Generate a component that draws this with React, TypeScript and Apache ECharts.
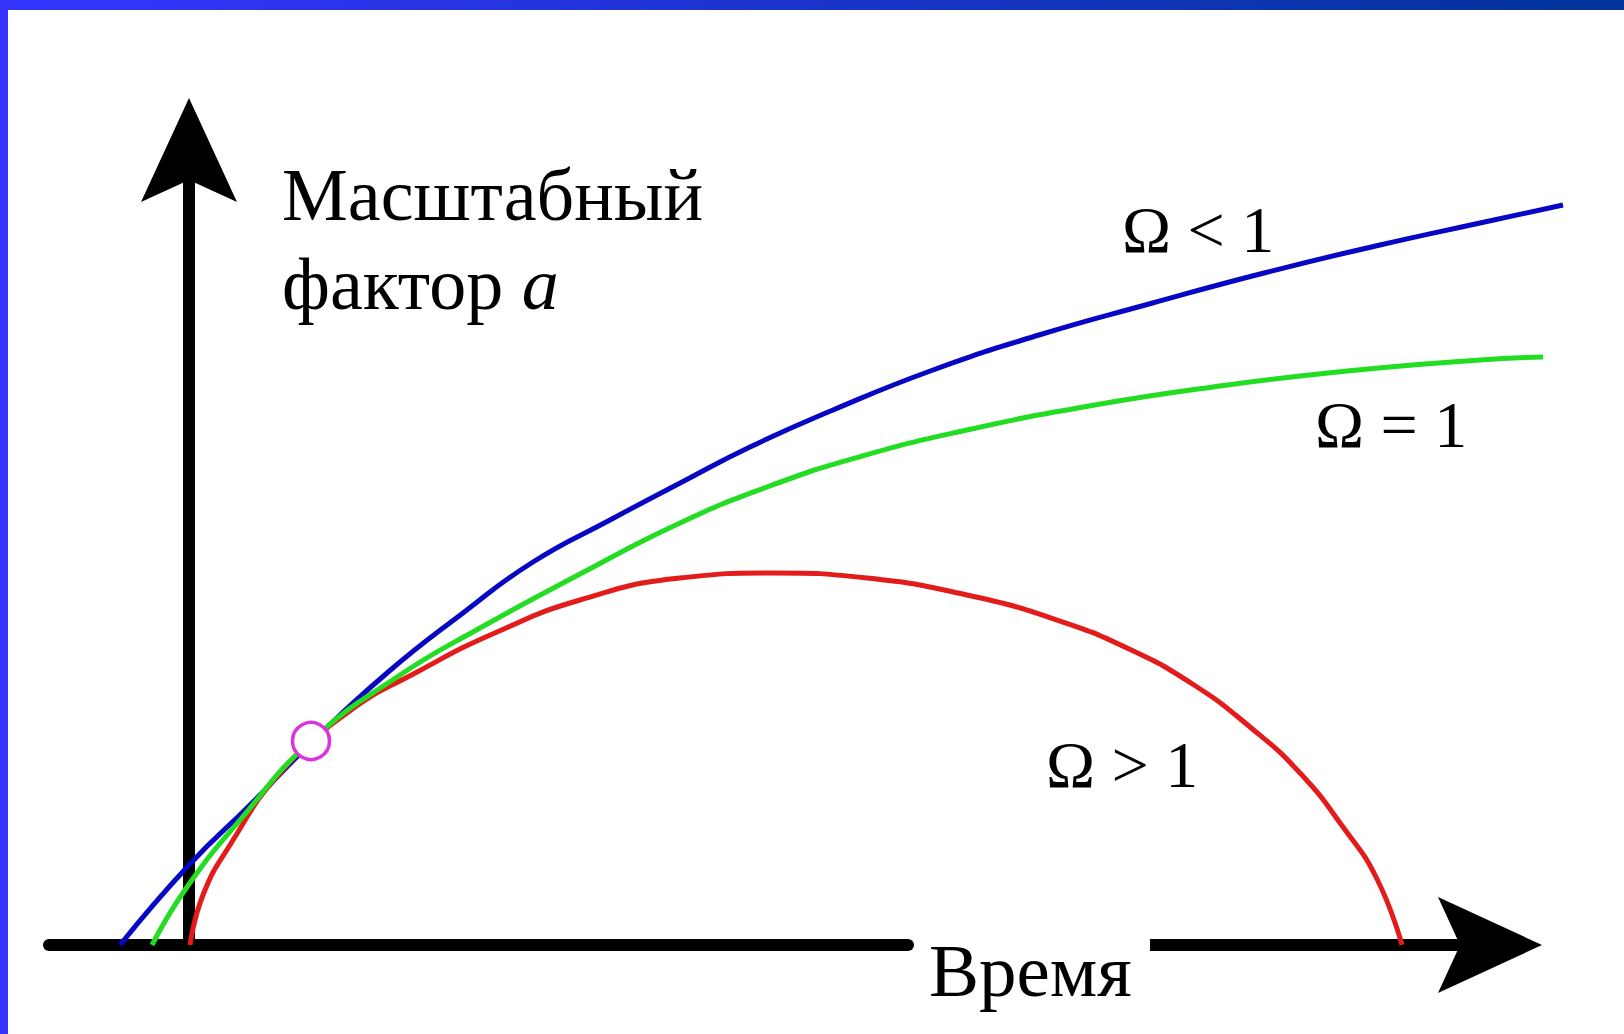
import React, { useEffect, useRef } from "react";
import * as echarts from "echarts";

// Curve values: [time, scale factor]
const openCurve: number[][] = [
  [-0.69, 0], [0, 0.8], [0.61, 1.4], [1.22, 2.02], [1.98, 2.72], [2.74, 3.32],
  [3.44, 3.83], [4.21, 4.25], [4.95, 4.64], [5.61, 4.98], [6.44, 5.35], [7.44, 5.75],
  [8.5, 6.1], [9.6, 6.41], [10.75, 6.72], [11.91, 7.0], [12.91, 7.22], [13.74, 7.4],
];
const flatCurve: number[][] = [
  [-0.37, 0], [-0.02, 0.58], [0.51, 1.25], [1.22, 2.04], [2.08, 2.68], [2.91, 3.17],
  [3.91, 3.71], [4.91, 4.22], [5.78, 4.58], [6.7, 4.88], [7.78, 5.15], [9.0, 5.39],
  [10.24, 5.58], [11.58, 5.74], [12.91, 5.85], [13.54, 5.88],
];
const closedCurve: number[][] = [
  [0.01, 0], [0.14, 0.5], [0.41, 1.0], [0.91, 1.72], [1.58, 2.32], [2.3, 2.74],
  [3.08, 3.13], [3.91, 3.45], [4.91, 3.67], [5.84, 3.72], [6.78, 3.67], [7.78, 3.5],
  [8.65, 3.26], [9.4, 2.96], [10.05, 2.6], [10.61, 2.18], [11.11, 1.72], [11.54, 1.18],
  [11.88, 0.66], [12.13, 0],
];
const todayPoint: number[][] = [[1.22, 2.04]];

const curveLabels = ["Ω < 1", "Ω = 1", "Ω > 1"];
const yAxisTitle = ["Масштабный", "фактор "];
const yAxisSymbol = "a";
const xAxisTitle = "Время";

// axis extents in data units
const X_START = -1.4;
const X_TIP = 13.53;
const Y_TIP = 8.47;
const X_BREAK = [7.19, 9.61];

const SERIF = '"Liberation Serif", "Times New Roman", serif';

export default function App() {
  const ref = useRef<HTMLDivElement>(null);
  useEffect(() => {
    const el = ref.current!;
    const chart = echarts.init(el, null, { renderer: "svg" });
    const lineSeries = (name: string, data: number[][], color: string, z: number) => ({
      name,
      type: "line",
      data,
      smooth: 0.5,
      showSymbol: false,
      symbol: "none",
      clip: false,
      z,
      lineStyle: { color, width: 5 },
    });
    chart.setOption({
      animation: false,
      backgroundColor: "#ffffff",
      grid: { left: 29, right: 35, top: 65, bottom: 89 },
      xAxis: { type: "value", min: -1.6, max: 14, show: false },
      yAxis: { type: "value", min: 0, max: 8.8, show: false },
      series: [
        lineSeries("open", openCurve, "#0606C4", 3),
        lineSeries("closed", closedCurve, "#E31B1B", 4),
        lineSeries("flat", flatCurve, "#22DD22", 5),
        {
          name: "today",
          type: "scatter",
          data: todayPoint,
          symbol: "circle",
          symbolSize: 37,
          z: 6,
          itemStyle: { color: "#ffffff", borderColor: "#DD33DD", borderWidth: 3.5, opacity: 1 },
        },
      ],
    });

    const px = (x: number, y: number) => chart.convertToPixel({ gridIndex: 0 }, [x, y]) as number[];
    const o = px(0, 0);
    const xs = px(X_START, 0);
    const xt = px(X_TIP, 0);
    const yt = px(0, Y_TIP);
    const b1 = px(X_BREAK[0], 0);
    const b2 = px(X_BREAK[1], 0);
    const AL = 104; // arrow length
    const AW = 48; // arrow half width
    const AN = 22; // notch depth
    const axisStyle = { stroke: "#000", lineWidth: 12, lineCap: "round" };

    chart.setOption({
      graphic: [
        {
          type: "rect",
          z: 10,
          shape: { x: 0, y: 0, width: 1624, height: 10 },
          style: {
            fill: new echarts.graphic.LinearGradient(0, 0, 1, 0, [
              { offset: 0, color: "#3535FF" },
              { offset: 1, color: "#003399" },
            ]),
          },
        },
        { type: "rect", z: 10, shape: { x: 0, y: 0, width: 8, height: 1034 }, style: { fill: "#3434FC" } },
        { type: "line", z: 1, shape: { x1: xs[0], y1: o[1], x2: b1[0], y2: o[1] }, style: axisStyle },
        { type: "line", z: 1, shape: { x1: b2[0], y1: o[1], x2: xt[0] - AL + AN, y2: o[1] }, style: { ...axisStyle, lineCap: "butt" } },
        { type: "line", z: 1, shape: { x1: o[0], y1: o[1], x2: o[0], y2: yt[1] + AL - AN }, style: { ...axisStyle, lineCap: "butt" } },
        {
          type: "polygon",
          z: 1,
          shape: {
            points: [
              [xt[0], o[1]],
              [xt[0] - AL, o[1] - AW],
              [xt[0] - AL + AN, o[1]],
              [xt[0] - AL, o[1] + AW],
            ],
          },
          style: { fill: "#000" },
        },
        {
          type: "polygon",
          z: 1,
          shape: {
            points: [
              [o[0], yt[1]],
              [o[0] + AW, yt[1] + AL],
              [o[0], yt[1] + AL - AN],
              [o[0] - AW, yt[1] + AL],
            ],
          },
          style: { fill: "#000" },
        },
        {
          type: "text",
          z: 8,
          x: 282,
          y: 195,
          style: { text: yAxisTitle[0], fontFamily: SERIF, fontSize: 74, fill: "#000", align: "left", verticalAlign: "middle" },
        },
        {
          type: "text",
          z: 8,
          x: 282,
          y: 284,
          style: {
            text: yAxisTitle[1] + "{i|" + yAxisSymbol + "}",
            fontFamily: SERIF,
            fontSize: 74,
            fill: "#000",
            align: "left",
            verticalAlign: "middle",
            rich: { i: { fontStyle: "italic", fontFamily: SERIF, fontSize: 74, fill: "#000" } },
          },
        },
        {
          type: "text",
          z: 8,
          x: 929,
          y: 970,
          style: { text: xAxisTitle, fontFamily: SERIF, fontSize: 75, fill: "#000", align: "left", verticalAlign: "middle" },
        },
        {
          type: "text",
          z: 8,
          x: 1122,
          y: 229,
          style: { text: curveLabels[0], fontFamily: SERIF, fontSize: 66, fill: "#000", align: "left", verticalAlign: "middle" },
        },
        {
          type: "text",
          z: 8,
          x: 1315,
          y: 424,
          style: { text: curveLabels[1], fontFamily: SERIF, fontSize: 66, fill: "#000", align: "left", verticalAlign: "middle" },
        },
        {
          type: "text",
          z: 8,
          x: 1046,
          y: 764,
          style: { text: curveLabels[2], fontFamily: SERIF, fontSize: 66, fill: "#000", align: "left", verticalAlign: "middle" },
        },
      ],
    });
    return () => chart.dispose();
  }, []);
  return (
    <div
      ref={ref}
      style={{ position: "absolute", left: 0, top: 0, width: 1624, height: 1034, background: "#fff" }}
    />
  );
}
